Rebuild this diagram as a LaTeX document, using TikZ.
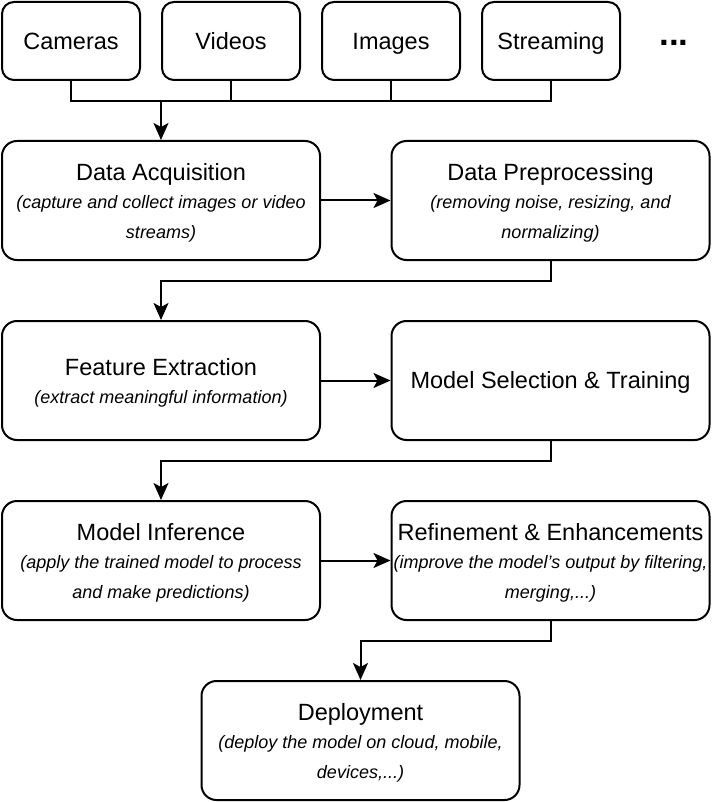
\documentclass[tikz,border=0pt]{standalone}
\usepackage{fontspec}
\setmainfont{Liberation Sans}
\usepackage{tikz}
\usetikzlibrary{arrows.meta, positioning}

\begin{document}
\begin{tikzpicture}[
    x=1pt, y=-1pt,
    source/.style={rectangle, rounded corners=12pt, draw=black, line width=2pt, fill=white, minimum width=138pt, minimum height=78pt, inner sep=0pt, text height=17pt, text depth=0pt, font=\fontsize{23.5}{30}\selectfont},
    stage/.style={rectangle, rounded corners=15pt, draw=black, line width=2pt, fill=white, minimum width=318pt, minimum height=119pt, inner sep=0pt, align=center, font=\fontsize{18}{30}\selectfont\itshape},
    line/.style={line width=2pt, black},
    arrow/.style={line, -{Stealth[length=17pt, width=15pt, inset=4pt]}}
]
\useasboundingbox (0,0) rectangle (716,802);
\newcommand{\stagetitle}[1]{{\upshape\fontsize{23.5}{30}\selectfont\rule{0pt}{21.5pt}#1}}

% Input sources
\foreach \i/\txt in {0/Cameras,1/Videos,2/Images,3/Streaming} {
    \node[source] (src\i) at (71+\i*160,41) {\txt};
}
\node[anchor=base, font=\fontsize{35}{35}\selectfont\bfseries] (more) at (674,46) {...};

% Pipeline stages
\node[stage] (acq) at (161,200.5) {\stagetitle{Data Acquisition}\\[-2pt](capture and collect images or video\\streams)};
\node[stage] (prep) at (550.5,200.5) {\stagetitle{Data Preprocessing}\\[-2pt](removing noise, resizing, and\\normalizing)};
\node[stage] (feat) at (161,380.5) {\stagetitle{Feature Extraction}\\[-2pt](extract meaningful information)};
\node[stage] (model) at (550.5,380.5) {\stagetitle{Model Selection \& Training}};
\node[stage] (infer) at (161,560.5) {\stagetitle{Model Inference}\\[-2pt](apply the trained model to process\\and make predictions)};
\node[stage] (refine) at (550.5,560.5) {\stagetitle{Refinement \& Enhancements}\\[-2pt](improve the model’s output by filtering,\\merging,...)};
\node[stage] (deploy) at (360.5,740.5) {\stagetitle{Deployment}\\[-2pt](deploy the model on cloud, mobile,\\devices,...)};

% Source bus
\coordinate (bus) at (161,100);
\draw[line] (src0.south) -- ++(0,20) -| (src3.south);
\foreach \i in {1,2} {
    \draw[line] (src\i.south) -- ++(0,20);
}
\draw[arrow] (bus) -- (acq.north);

% Horizontal links
\draw[arrow] (acq) -- (prep);
\draw[arrow] (feat) -- (model);
\draw[arrow] (infer.east) -- (refine.west);

% Row changes
\draw[arrow] (prep.south) -- ++(0,20) -| (feat.north);
\draw[arrow] (model.south) -- ++(0,20) -| (infer.north);
\draw[arrow] (refine.south) -- ++(0,20) -| (deploy.north);
\end{tikzpicture}
\end{document}
